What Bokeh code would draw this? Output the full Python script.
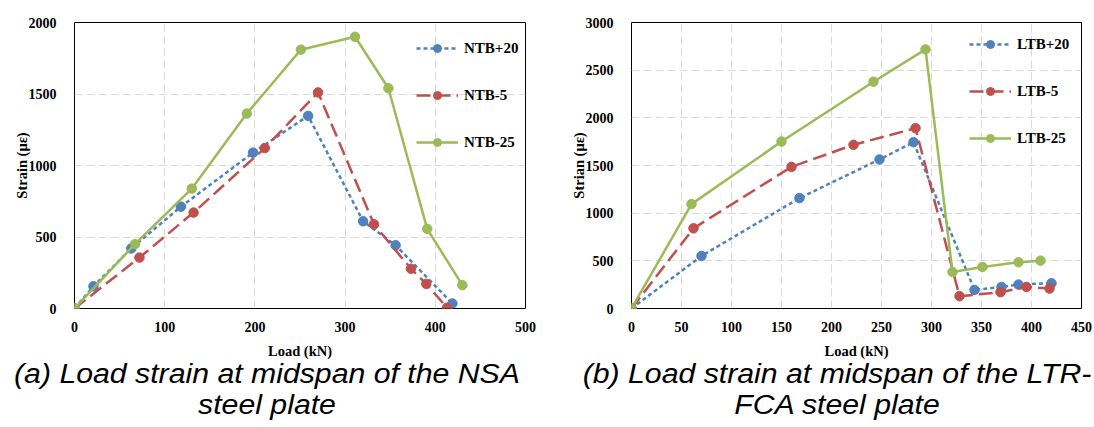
from bokeh.plotting import figure
from bokeh.models import Legend, LegendItem, Range1d, FixedTicker, Div
from bokeh.layouts import row, column
from bokeh.embed import file_html
from bokeh.resources import INLINE

# ---------------- data ----------------
# (a) NSA steel plate
ntb20_load = [0, 21, 63, 118, 198, 259, 320, 356, 419]
ntb20_strain = [0, 155, 420, 712, 1090, 1347, 610, 442, 35]
ntb5_load = [0, 72, 132, 211, 270, 332, 373, 390, 413]
ntb5_strain = [0, 356, 671, 1122, 1511, 589, 278, 172, 5]
ntb25_load = [0, 67, 130, 191, 251, 311, 348, 391, 430]
ntb25_strain = [0, 450, 838, 1363, 1810, 1900, 1540, 557, 163]

# (b) LTR-FCA steel plate
ltb20_load = [0, 70, 168, 248, 282, 343, 370, 387, 420]
ltb20_strain = [0, 551, 1158, 1563, 1745, 195, 226, 251, 265]
ltb5_load = [0, 62, 160, 222, 284, 328, 369, 395, 418]
ltb5_strain = [0, 841, 1486, 1717, 1891, 129, 171, 226, 209]
ltb25_load = [0, 60, 150, 242, 294, 321, 351, 387, 409]
ltb25_strain = [0, 1095, 1751, 2379, 2718, 383, 436, 485, 502]

a_x_ticks = [0, 100, 200, 300, 400, 500]
a_y_ticks = [0, 500, 1000, 1500, 2000]
b_x_ticks = [0, 50, 100, 150, 200, 250, 300, 350, 400, 450]
b_y_ticks = [0, 500, 1000, 1500, 2000, 2500, 3000]

names_a = ["NTB+20", "NTB-5", "NTB-25"]
names_b = ["LTB+20", "LTB-5", "LTB-25"]

caption_a = ["(a) Load strain at midspan of the NSA", "steel plate"]
caption_b = ["(b) Load strain at midspan of the LTR-", "FCA steel plate"]

BLUE = "#4F81BD"
RED = "#C0504D"
GREEN = "#9BBB59"
SERIF = "Liberation Serif"
FIG_H = 362


def make_fig(width, mbl, mbr, xmax, ymax, xt, yt, ylabel, series, names, leg_loc):
    p = figure(width=width, height=FIG_H, x_range=Range1d(0, xmax), y_range=Range1d(0, ymax),
               output_backend="svg", toolbar_location=None,
               min_border_left=mbl, min_border_right=mbr, min_border_top=22, min_border_bottom=54,
               background_fill_color="white", border_fill_color="white", margin=0)
    p.outline_line_color = "black"
    p.outline_line_width = 1
    p.xaxis.ticker = FixedTicker(ticks=xt)
    p.yaxis.ticker = FixedTicker(ticks=yt)
    p.xaxis.major_label_overrides = {t: str(t) for t in xt}
    p.yaxis.major_label_overrides = {t: str(t) for t in yt}
    for ax in (p.xaxis[0], p.yaxis[0]):
        ax.axis_line_color = None
        ax.major_tick_line_color = None
        ax.minor_tick_line_color = None
        ax.major_label_text_font = SERIF
        ax.major_label_text_font_style = "bold"
        ax.major_label_text_font_size = "14px"
        ax.major_label_text_color = "black"
        ax.axis_label_text_font = SERIF
        ax.axis_label_text_font_style = "bold"
        ax.axis_label_text_font_size = "14.5px"
        ax.axis_label_text_color = "black"
    p.xaxis.major_label_standoff = 7
    p.yaxis.major_label_standoff = 12
    p.xaxis.axis_label = "Load (kN)"
    p.yaxis.axis_label = ylabel
    p.xaxis.axis_label_standoff = 8
    p.yaxis.axis_label_standoff = -4
    for g in (p.xgrid[0], p.ygrid[0]):
        g.grid_line_color = "#D9D9D9"
        g.grid_line_dash = "8 4"
        g.grid_line_width = 1

    styles = [(BLUE, "4 3"), (RED, "14 6"), (GREEN, "solid")]
    items = []
    for (xs, ys), name, (col, dash) in zip(series, names, styles):
        l = p.line(xs, ys, line_color=col, line_width=2.5, line_dash=dash)
        s = p.scatter(xs, ys, marker="circle", size=9.5, fill_color=col, line_color=col)
        items.append(LegendItem(label=name, renderers=[l, s]))
    leg = Legend(items=items, location=leg_loc, glyph_width=42, glyph_height=20, label_height=20,
                 spacing=27, padding=0, margin=0, border_line_color=None, background_fill_alpha=0,
                 label_standoff=6, label_text_font=SERIF, label_text_font_style="bold",
                 label_text_font_size="15px", label_text_color="black")
    p.add_layout(leg)
    return p


pa = make_fig(545, 74, 20, 500, 2000, a_x_ticks, a_y_ticks, "Strain (με)",
              [(ntb20_load, ntb20_strain), (ntb5_load, ntb5_strain), (ntb25_load, ntb25_strain)],
              names_a, (342, 156))
pb = make_fig(549, 86, 13, 450, 3000, b_x_ticks, b_y_ticks, "Strian (με)",
              [(ltb20_load, ltb20_strain), (ltb5_load, ltb5_strain), (ltb25_load, ltb25_strain)],
              names_b, (338, 160))

box = ("font-family:'Liberation Sans',Arial,sans-serif;font-style:italic;font-size:27px;"
       "line-height:31px;color:black;text-align:center;overflow:hidden;height:62px;margin:0;padding:0;"
       "position:relative;top:-3px;")
line_css = "display:block;height:31px;transform:scaleX(1.12);white-space:nowrap;margin:0;padding:0;"


def cap_html(lines, w):
    inner = "".join(f'<div style="{line_css}">{t}</div>' for t in lines)
    return f'<div style="width:{w}px;{box}">{inner}</div>'


html = ('<div style="display:flex;width:1094px;height:62px;margin:0;padding:0;">'
        + cap_html(caption_a, 534)
        + '<div style="width:46px;"></div>'
        + cap_html(caption_b, 514)
        + '</div>')
caps = Div(text=html, width=1094, height=62, margin=0, styles={"overflow": "visible"})

layout = column(row(pa, pb, margin=0, spacing=0), caps, margin=0, spacing=0)
open("out.html", "w").write(file_html(layout, INLINE))
